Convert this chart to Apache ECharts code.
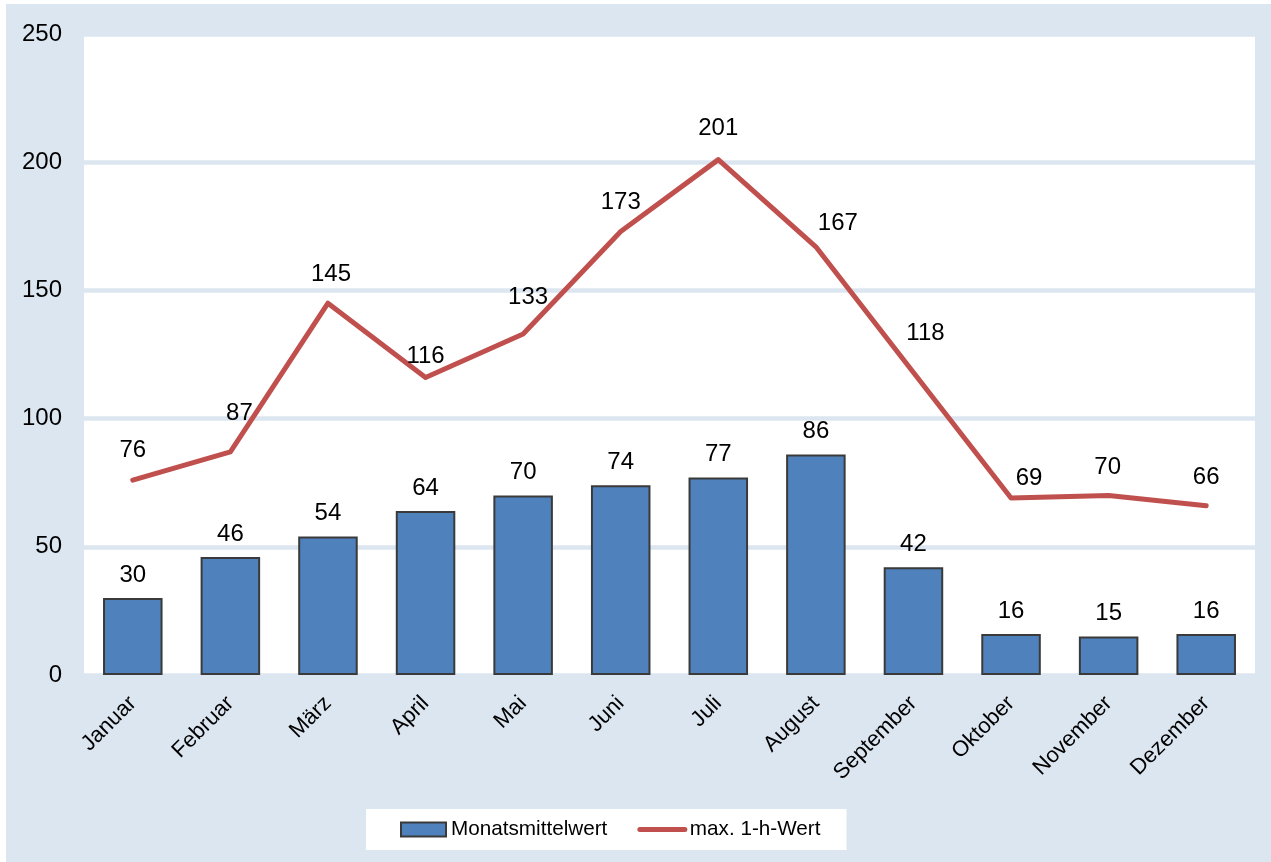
<!DOCTYPE html>
<html>
<head>
<meta charset="utf-8">
<script src="https://cdn.jsdelivr.net/npm/echarts@6/dist/echarts.min.js"></script>
<style>
html,body{margin:0;padding:0;background:#fff;}
#chart{width:1271px;height:862px;}
</style>
</head>
<body>
<div id="chart"></div>
<script>
const categories = ['Januar','Februar','März','April','Mai','Juni','Juli','August','September','Oktober','November','Dezember'];
const monthlyMean = [30,46,54,64,70,74,77,86,42,16,15,16];
const maxHourly = [76,87,145,116,133,173,201,167,118,69,70,66];
const yTicks = [0,50,100,150,200,250];

// label nudges (dx, dy) for the line's data labels, as placed in the reference
const lineLabelNudge = [[0,0],[9,-9],[3,1],[0,8],[5,-7],[0,0],[0,-2],[22,6],[12,-10],[18,10],[-1,1],[0,1]];

const font = 'Liberation Sans, Arial, sans-serif';
const chart = echarts.init(document.getElementById('chart'), null, {renderer:'canvas'});

const option = {
  backgroundColor: '#ffffff',
  animation: false,
  textStyle: {fontFamily: font},
  graphic: [{
    type: 'rect', z: -10, silent: true,
    shape: {x: 6, y: 4, width: 1265, height: 858},
    style: {fill: '#DCE6F1'}
  }],
  grid: {left: 84, right: 16, top: 34, bottom: 187, show: true, backgroundColor: '#ffffff', borderWidth: 0},
  legend: {
    left: 366, top: 809,
    backgroundColor: '#ffffff',
    padding: [10, 26, 10, 34],
    itemWidth: 45, itemHeight: 14, itemGap: 30,
    textStyle: {fontSize: 20.7, color: '#000', fontFamily: font},
    data: [
      {name: 'Monatsmittelwert', icon: 'rect'},
      {name: 'max. 1-h-Wert', itemStyle: {opacity: 0}, lineStyle: {width: 5, cap: 'round', color: '#C0504D'}}
    ]
  },
  xAxis: {
    type: 'category',
    data: categories,
    axisLine: {show: false},
    axisTick: {show: false},
    axisLabel: {rotate: 45, fontSize: 22, color: '#000', margin: 25, fontFamily: font, interval: 0}
  },
  yAxis: {
    type: 'value',
    min: yTicks[0], max: yTicks[yTicks.length-1], interval: 50,
    axisLine: {show: false},
    axisTick: {show: false},
    axisLabel: {fontSize: 24, color: '#000', margin: 22, fontFamily: font},
    splitLine: {lineStyle: {color: '#DCE6F1', width: 4.5}}
  },
  series: [
    {
      name: 'Monatsmittelwert',
      type: 'bar',
      data: monthlyMean,
      barWidth: '61%',
      itemStyle: {color: '#4F81BD', borderColor: '#3a3a3a', borderWidth: 2},
      label: {show: true, position: 'top', distance: 11, fontSize: 24, color: '#000', fontFamily: font}
    },
    {
      name: 'max. 1-h-Wert',
      type: 'line',
      data: maxHourly.map((v, i) => ({
        value: v,
        label: {offset: lineLabelNudge[i]}
      })),
      symbol: 'circle',
      symbolSize: 1,
      showSymbol: true,
      lineStyle: {color: '#C0504D', width: 5, cap: 'round', join: 'round'},
      itemStyle: {color: '#C0504D'},
      label: {show: true, position: 'top', distance: 17, fontSize: 24, color: '#000', fontFamily: font},
      z: 5
    }
  ]
};
chart.setOption(option);
</script>
</body>
</html>
